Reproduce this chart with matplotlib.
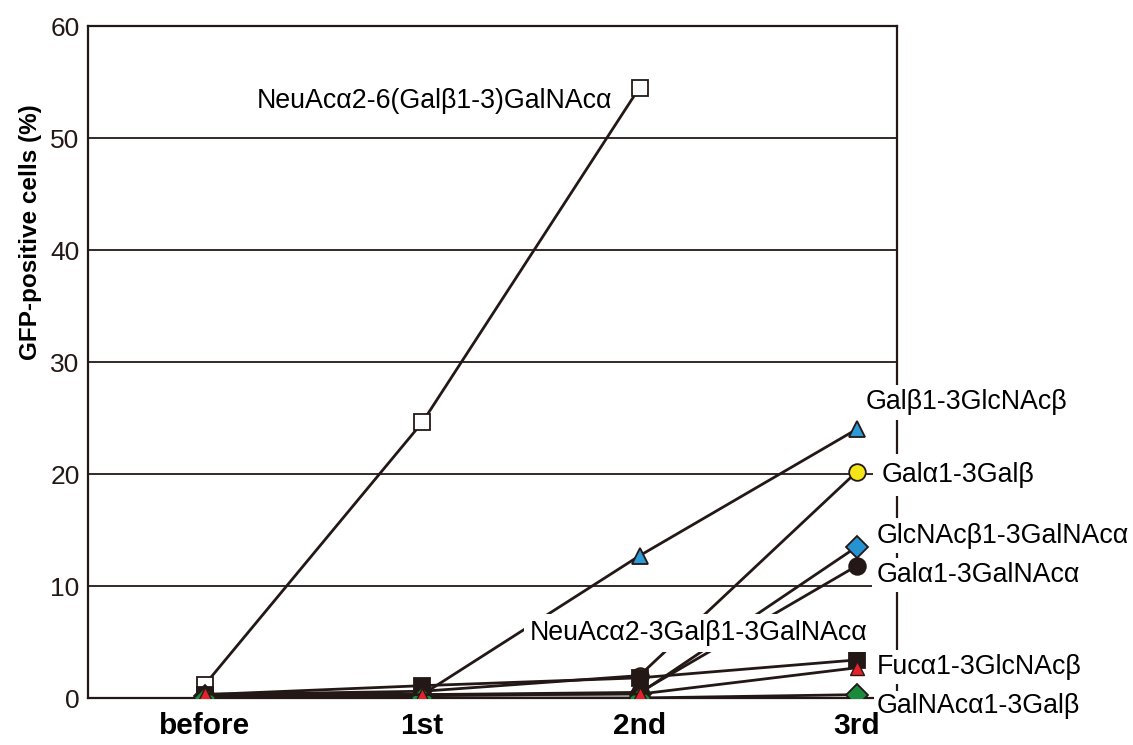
import numpy as np
from matplotlib import pyplot as plt

plt.rcParams['font.family'] = ['Liberation Sans', 'DejaVu Sans']

# data
categories = ['before', '1st', '2nd', '3rd']
neuac26_galb13_galnac = [1.2, 24.6, 54.5, np.nan]
galb13_glcnacb = [0.3, 0.3, 12.7, 24.0]
gala13_galb = [0.3, 0.6, 2.0, 20.2]
glcnacb13_galnaca = [0.2, 0.2, 0.4, 13.5]
gala13_galnaca = [0.3, 0.3, 0.5, 11.8]
neuac23_galb13_galnaca = [0.3, 1.1, 1.8, 3.4]
fuca13_glcnacb = [0.35, 0.3, 0.35, 2.7]
galnaca13_galb = [0.0, 0.0, 0.0, 0.3]

x = np.arange(len(categories))
dark = '#231815'

fig = plt.figure(figsize=(11.33, 7.45), dpi=100)
ax = fig.add_axes([88/1133, 1 - 698/745, (897-88)/1133, (698-26)/745])

# gridlines
for yv in [10, 20, 30, 40, 50]:
    ax.axhline(yv, color=dark, lw=1.3, zorder=1)

lw = 2.0
ax.plot(x, neuac26_galb13_galnac, '-s', color=dark, lw=lw, ms=11,
        mfc='white', mec=dark, mew=1.3, zorder=3)
ax.plot(x, galb13_glcnacb, '-^', color=dark, lw=lw, ms=12,
        mfc='#2b9ad6', mec=dark, mew=1.3, zorder=3)
ax.plot(x, gala13_galb, '-o', color=dark, lw=lw, ms=12,
        mfc='#f4e516', mec=dark, mew=1.3, zorder=3)
ax.plot(x, glcnacb13_galnaca, '-D', color=dark, lw=lw, ms=11,
        mfc='#2592d2', mec=dark, mew=1.3, zorder=3)
ax.plot(x, gala13_galnaca, '-o', color=dark, lw=lw, ms=12,
        mfc=dark, mec=dark, mew=1.3, zorder=3)
ax.plot(x, neuac23_galb13_galnaca, '-s', color=dark, lw=lw, ms=11,
        mfc=dark, mec=dark, mew=1.3, zorder=3)
ax.plot(x, galnaca13_galb, '-D', color=dark, lw=lw, ms=11,
        mfc='#1c8a3c', mec=dark, mew=1.3, zorder=3)
ax.plot(x, fuca13_glcnacb, '-^', color=dark, lw=lw, ms=10,
        mfc='#e5222b', mec=dark, mew=1.0, zorder=3)

# labels
box = dict(fc='white', ec='none', pad=3)
fs = 19.3
ax.text(1.873, 53.3, 'NeuAcα2-6(Galβ1-3)GalNAcα', fontsize=fs,
        ha='right', va='center', zorder=5)
ax.text(3.04, 26.4, 'Galβ1-3GlcNAcβ', fontsize=fs, ha='left', va='center',
        bbox=box, zorder=5, clip_on=False)
ax.text(3.115, 19.9, 'Galα1-3Galβ', fontsize=fs, ha='left', va='center',
        bbox=dict(fc='white', ec='none', pad=6), zorder=5, clip_on=False)
ax.text(3.09, 14.5, 'GlcNAcβ1-3GalNAcα', fontsize=fs, ha='left', va='center',
        bbox=box, zorder=5, clip_on=False)
ax.text(3.09, 11.0, 'Galα1-3GalNAcα', fontsize=fs, ha='left', va='center',
        bbox=box, zorder=5, clip_on=False)
ax.text(1.496, 5.8, 'NeuAcα2-3Galβ1-3GalNAcα', fontsize=fs, ha='left',
        va='center', bbox=dict(fc='white', ec='none', pad=4), zorder=5)
ax.text(3.09, 2.75, 'Fucα1-3GlcNAcβ', fontsize=fs, ha='left', va='center',
        bbox=box, zorder=5, clip_on=False)
ax.text(3.09, -0.7, 'GalNAcα1-3Galβ', fontsize=fs, ha='left', va='center',
        bbox=dict(fc='white', ec='none', pad=1.5), zorder=5, clip_on=False)

ax.set_xlim(-0.538, 3.185)
ax.set_ylim(0, 60)
ax.set_xticks(x)
ax.set_xticklabels(categories, fontsize=21.5, fontweight='bold')
ax.set_yticks([0, 10, 20, 30, 40, 50, 60])
ax.tick_params(axis='y', length=0, pad=6, labelsize=19, colors=dark)
ax.tick_params(axis='x', length=0, pad=10, colors='black')
ax.xaxis.set_zorder(6)
ax.set_ylabel('GFP-positive cells (%)', fontsize=17.5, fontweight='bold')
ax.yaxis.set_label_coords(-0.057, (698 - 232) / 672)

for s in ax.spines.values():
    s.set_color(dark)
    s.set_linewidth(1.6)
    s.set_zorder(2)

plt.savefig('out.png', dpi=100)
